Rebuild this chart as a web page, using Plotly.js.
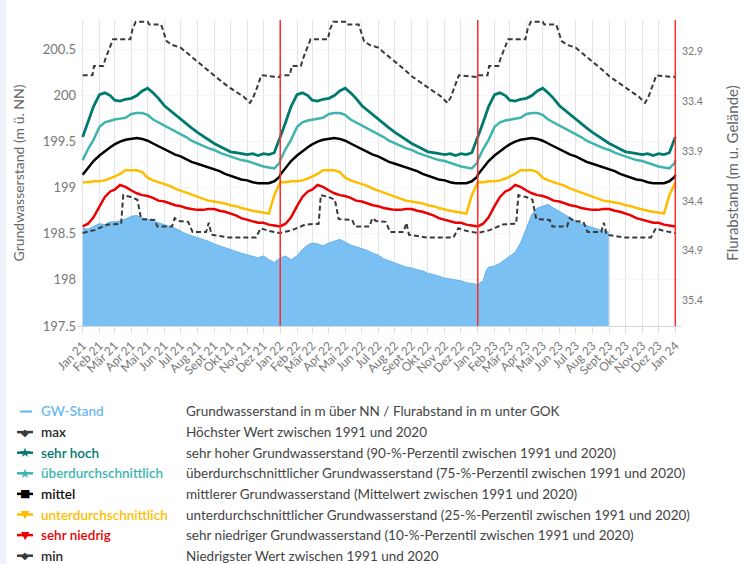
<!DOCTYPE html>
<html>
<head>
<meta charset="utf-8">
<script src="https://cdn.plot.ly/plotly-3.0.1.min.js"></script>
<style>
  html, body { margin: 0; padding: 0; background: #ffffff; }
  #chart { width: 747px; height: 564px; }
</style>
</head>
<body>
<div id="chart"></div>
<script>
// ---------- DATA ----------
const years = [2021, 2022, 2023];
const monthNames = ['Jan', 'Feb', 'Mär', 'Apr', 'Mai', 'Jun', 'Jul', 'Aug', 'Sept', 'Okt', 'Nov', 'Dez'];
const yearBoundaries = ['2022-01-01', '2023-01-01', '2024-01-01'];

const leftTicks = [197.5, 198, 198.5, 199, 199.5, 200, 200.5];
const rightTicks = [32.9, 33.4, 33.9, 34.4, 34.9, 35.4];

// long-term reference lines (same day-of-year values each year, 1991-2020)
const refDays = ['01-01','01-11','01-21','02-01','02-11','02-21','03-01','03-11','03-21','04-01','04-11','04-21',
                 '05-01','05-11','05-21','06-01','06-11','06-21','07-01','07-11','07-21','08-01','08-11','08-21',
                 '09-01','09-11','09-21','10-01','10-11','10-21','11-01','11-11','11-21','12-01','12-11','12-21','12-31'];
const sehrHoch = [199.55,199.71,199.88,200.01,200.03,200.00,199.95,199.94,199.96,199.97,200.00,200.05,
                  200.08,200.03,199.97,199.89,199.84,199.79,199.75,199.70,199.65,199.60,199.56,199.52,
                  199.48,199.45,199.42,199.39,199.38,199.37,199.36,199.37,199.35,199.37,199.36,199.38,199.52];
const ueberdurchschnittlich = [199.30,199.42,199.52,199.66,199.71,199.73,199.74,199.75,199.76,199.80,199.81,199.81,
                  199.79,199.74,199.71,199.67,199.64,199.61,199.58,199.55,199.51,199.48,199.46,199.43,
                  199.41,199.38,199.36,199.34,199.32,199.30,199.29,199.27,199.25,199.23,199.22,199.21,199.27];
const mittel = [199.14,199.22,199.29,199.35,199.40,199.44,199.47,199.50,199.52,199.53,199.54,199.53,
                199.51,199.48,199.45,199.42,199.39,199.36,199.34,199.31,199.28,199.26,199.24,199.22,
                199.20,199.18,199.15,199.13,199.11,199.09,199.08,199.06,199.05,199.05,199.05,199.07,199.12];
const unterdurchschnittlich = [199.06,199.06,199.07,199.07,199.08,199.10,199.12,199.15,199.19,199.19,199.19,199.17,
                199.11,199.08,199.06,199.04,199.02,198.99,198.97,198.95,198.93,198.90,198.88,198.86,
                198.85,198.84,198.83,198.81,198.80,198.78,198.76,198.75,198.74,198.73,198.72,198.92,199.05];
const sehrNiedrig = [198.58,198.61,198.68,198.80,198.90,198.96,198.98,199.03,199.01,198.97,198.94,198.92,
                198.91,198.89,198.86,198.85,198.83,198.81,198.80,198.78,198.77,198.76,198.76,198.77,
                198.77,198.75,198.74,198.72,198.70,198.67,198.65,198.64,198.62,198.62,198.60,198.59,198.58];

const maxDays = ['01-01','01-19','01-22','02-08','02-12','02-26','03-30','04-03','04-09','05-01','05-04','05-26',
                 '06-05','06-15','07-01','07-15','08-01','08-15','09-01','09-15','10-01','10-15','10-25','11-06',
                 '11-12','11-20','11-27','12-31'];
const maxVals = [200.22,200.22,200.32,200.32,200.40,200.61,200.61,200.72,200.80,200.80,200.77,200.77,
                 200.59,200.55,200.52,200.45,200.37,200.30,200.21,200.15,200.08,200.03,199.99,199.92,
                 199.98,200.10,200.22,200.20];

const minDays = ['01-01','01-23','02-16','03-13','03-17','03-31','04-12','04-19','05-14','05-19','06-15','06-20',
                 '06-27','07-15','07-23','08-17','08-22','08-27','09-28','11-17','11-26','12-12','12-31'];
const minVals = [198.51,198.54,198.60,198.61,198.92,198.90,198.87,198.66,198.65,198.58,198.58,198.67,
                 198.64,198.63,198.52,198.52,198.62,198.49,198.46,198.46,198.56,198.53,198.51];

// measured groundwater level (m ü. NN)
const gwDates = [
 '2021-01-01','2021-01-11','2021-01-21','2021-02-01','2021-02-11','2021-02-21','2021-03-01','2021-03-11','2021-03-21',
 '2021-04-01','2021-04-11','2021-04-21','2021-05-01','2021-05-11','2021-05-21','2021-06-01','2021-06-11','2021-06-21',
 '2021-07-01','2021-07-11','2021-07-21','2021-08-01','2021-08-11','2021-08-21','2021-09-01','2021-09-11','2021-09-21',
 '2021-10-01','2021-10-06','2021-10-07','2021-10-08','2021-10-11','2021-10-21','2021-11-01','2021-11-11','2021-11-21',
 '2021-12-01','2021-12-11','2021-12-21',
 '2022-01-01','2022-01-11','2022-01-21','2022-02-01','2022-02-11','2022-02-21','2022-03-01','2022-03-11','2022-03-21',
 '2022-04-01','2022-04-11','2022-04-21','2022-05-01','2022-05-11','2022-05-21','2022-06-01','2022-06-11','2022-06-21',
 '2022-07-01','2022-07-11','2022-07-21','2022-08-01','2022-08-11','2022-08-21','2022-09-01','2022-09-11','2022-09-21',
 '2022-10-01','2022-10-11','2022-10-21','2022-11-01','2022-11-11','2022-11-21','2022-12-01','2022-12-11','2022-12-21',
 '2023-01-01','2023-01-11','2023-01-16','2023-01-21','2023-02-01','2023-02-11','2023-02-21','2023-03-01','2023-03-11',
 '2023-03-21','2023-04-01','2023-04-11','2023-04-21','2023-05-01','2023-05-11','2023-05-21','2023-06-01','2023-06-11',
 '2023-06-21','2023-07-01','2023-07-11','2023-07-21','2023-08-01','2023-08-11','2023-08-21','2023-08-31'];
const gwLevel = [
 198.56,198.55,198.58,198.61,198.60,198.63,198.63,198.64,198.66,
 198.69,198.70,198.67,198.66,198.64,198.62,198.60,198.58,198.56,
 198.53,198.50,198.48,198.46,198.44,198.42,198.39,198.37,198.35,
 198.33,198.32,null,198.32,198.31,198.29,198.27,198.26,198.24,
 198.26,198.22,198.19,
 198.24,198.26,198.22,198.26,198.33,198.38,198.40,198.39,198.37,
 198.40,198.42,198.44,198.41,198.38,198.36,198.34,198.32,198.29,
 198.27,198.23,198.21,198.18,198.16,198.14,198.13,198.11,198.10,
 198.07,198.06,198.04,198.02,198.01,198.00,197.99,197.97,197.96,
 197.95,197.99,198.09,198.14,198.15,198.18,198.22,198.26,198.30,
 198.40,198.56,198.71,198.78,198.80,198.82,198.78,198.74,198.71,
 198.67,198.64,198.61,198.59,198.57,198.55,198.53,198.52];

// legend content
const legendNames = ['GW-Stand','max','sehr hoch','überdurchschnittlich','mittel','unterdurchschnittlich','sehr niedrig','min'];
const legendDescriptions = [
 'Grundwasserstand in m über NN / Flurabstand in m unter GOK',
 'Höchster Wert zwischen 1991 und 2020',
 'sehr hoher Grundwasserstand (90-%-Perzentil zwischen 1991 und 2020)',
 'überdurchschnittlicher Grundwasserstand (75-%-Perzentil zwischen 1991 und 2020)',
 'mittlerer Grundwasserstand (Mittelwert zwischen 1991 und 2020)',
 'unterdurchschnittlicher Grundwasserstand (25-%-Perzentil zwischen 1991 und 2020)',
 'sehr niedriger Grundwasserstand (10-%-Perzentil zwischen 1991 und 2020)',
 'Niedrigster Wert zwischen 1991 und 2020'];
const legendSymbols = ['', '◆', '★', '★', '■', '▼', '▼', '◆'];

// ---------- STYLE ----------
const C = {
  gwFill: '#7bc0f2', gwLine: '#64b4ee', gwText: '#6cb9f0',
  dash: '#3a3a3a', hoch: '#007a70', ueber: '#3db5ae', mittel: '#000000',
  unter: '#ffbd00', niedrig: '#ec0000'
};
const legendColors = [C.gwText, '#2a2a2a', C.hoch, C.ueber, '#111111', C.unter, C.niedrig, '#2a2a2a'];
const legendLineColors = [C.gwLine, C.dash, C.hoch, C.ueber, C.mittel, C.unter, C.niedrig, C.dash];

const W = 747, H = 564;
const M = { l: 77, r: 66, t: 20, b: 238 };
const PW = W - M.l - M.r, PH = H - M.t - M.b;
const px2x = px => (px - M.l) / PW;
const px2y = py => (H - M.b - py) / PH;

// ---------- BUILD ----------
function repeatYears(days, vals) {
  const x = [], y = [];
  years.forEach(yr => days.forEach((d, i) => { x.push(yr + '-' + d); y.push(vals[i]); }));
  x.push((years[years.length - 1] + 1) + '-' + days[0]); y.push(vals[0]);
  return { x, y };
}

const tickvals = [], ticktext = [];
years.forEach(yr => monthNames.forEach((m, i) => {
  tickvals.push(yr + '-' + String(i + 1).padStart(2, '0') + '-01');
  ticktext.push(m + ' ' + String(yr).slice(2));
}));
tickvals.push((years[years.length - 1] + 1) + '-01-01');
ticktext.push(monthNames[0] + ' ' + String(years[years.length - 1] + 1).slice(2));

function lineTrace(days, vals, color, width, dash) {
  const d = repeatYears(days, vals);
  return { x: d.x, y: d.y, type: 'scatter', mode: 'lines',
           line: { color: color, width: width, dash: dash || 'solid' },
           hoverinfo: 'skip', showlegend: false };
}

const traces = [
  { x: gwDates, y: gwLevel, type: 'scatter', mode: 'lines', fill: 'tozeroy',
    fillcolor: C.gwFill, line: { color: C.gwLine, width: 1 }, connectgaps: false,
    hoverinfo: 'skip', showlegend: false },
  lineTrace(minDays, minVals, C.dash, 2, '5px,3px'),
  lineTrace(refDays, sehrNiedrig, C.niedrig, 2.5),
  lineTrace(refDays, unterdurchschnittlich, C.unter, 2.5),
  lineTrace(refDays, mittel, C.mittel, 2.5),
  lineTrace(refDays, ueberdurchschnittlich, C.ueber, 2.5),
  lineTrace(refDays, sehrHoch, C.hoch, 2.8),
  lineTrace(maxDays, maxVals, C.dash, 2, '5px,3px'),
  { x: [tickvals[0]], y: [rightTicks[0]], yaxis: 'y2', type: 'scatter', mode: 'markers',
    marker: { opacity: 0 }, hoverinfo: 'skip', showlegend: false }
];

const shapes = [];
yearBoundaries.forEach(d => shapes.push({
  type: 'line', xref: 'x', yref: 'paper', x0: d, x1: d, y0: 0, y1: 1,
  line: { color: '#ff2b2b', width: 1.5 }
}));
// page strip on the left
shapes.push({ type: 'rect', xref: 'paper', yref: 'paper', x0: px2x(0), x1: px2x(6),
  y0: px2y(H), y1: px2y(0), fillcolor: '#edf3f9', line: { width: 0 }, layer: 'below' });

const annotations = [];
const rowY0 = 411.5, rowStep = 20.6;
legendNames.forEach((name, i) => {
  const py = rowY0 + i * rowStep;
  shapes.push({ type: 'line', xref: 'paper', yref: 'paper',
    x0: px2x(i === 0 ? 20 : 17), x1: px2x(i === 0 ? 32 : 33), y0: px2y(py), y1: px2y(py),
    line: { color: legendLineColors[i], width: i === 0 ? 2 : 2.5 } });
  if (legendSymbols[i]) {
    const sz = legendSymbols[i] === '★' ? 13 : (legendSymbols[i] === '◆' ? 10 : 11);
    annotations.push({ xref: 'paper', yref: 'paper', x: px2x(25), y: px2y(py), xanchor: 'center', yanchor: 'middle',
      text: legendSymbols[i], showarrow: false, font: { size: sz, color: legendLineColors[i], family: 'DejaVu Sans' } });
  }
  annotations.push({ xref: 'paper', yref: 'paper', x: px2x(39), y: px2y(py), xanchor: 'left', yanchor: 'middle',
    text: name, showarrow: false, font: { size: 13.5, color: legendColors[i], weight: 600 } });
  annotations.push({ xref: 'paper', yref: 'paper', x: px2x(184), y: px2y(py), xanchor: 'left', yanchor: 'middle',
    text: legendDescriptions[i], showarrow: false, font: { size: 13.5, color: '#444444' } });
});

const layout = {
  width: W, height: H,
  margin: M,
  paper_bgcolor: '#ffffff', plot_bgcolor: '#ffffff',
  font: { family: 'Lato, "Open Sans", sans-serif', color: '#666666' },
  showlegend: false,
  xaxis: {
    type: 'date', range: ['2020-12-21 12:00', '2024-01-11 12:00'],
    tickmode: 'array', tickvals: tickvals, ticktext: ticktext, tickangle: -45,
    tickfont: { size: 12, color: '#777777' },
    showgrid: true, gridcolor: '#e3e3ea', gridwidth: 1,
    ticks: 'outside', ticklen: 7, tickcolor: '#dedee6',
    showline: true, linecolor: '#d6d6de', linewidth: 1, zeroline: false, fixedrange: true
  },
  yaxis: {
    range: [197.5, 200.82], tickmode: 'array', tickvals: leftTicks, ticktext: leftTicks.map(String),
    tickfont: { size: 13, color: '#777777' }, showgrid: true, gridcolor: '#f5f5f8',
    zeroline: false, showline: false, ticks: '', automargin: false,
    title: { text: 'Grundwasserstand (m ü. NN)', font: { size: 14, color: '#666666' }, standoff: 14 }
  },
  yaxis2: {
    overlaying: 'y', side: 'right', range: [35.66, 32.58],
    tickmode: 'array', tickvals: rightTicks, ticktext: rightTicks.map(String),
    tickfont: { size: 10.5, color: '#777777' }, showgrid: false, zeroline: false, showline: false,
    ticks: '', automargin: false,
    title: { text: 'Flurabstand (m u. Gelände)', font: { size: 15, color: '#666666' }, standoff: 25 }
  },
  shapes: shapes,
  annotations: annotations
};

Plotly.newPlot('chart', traces, layout, { staticPlot: true, displayModeBar: false });
</script>
</body>
</html>
